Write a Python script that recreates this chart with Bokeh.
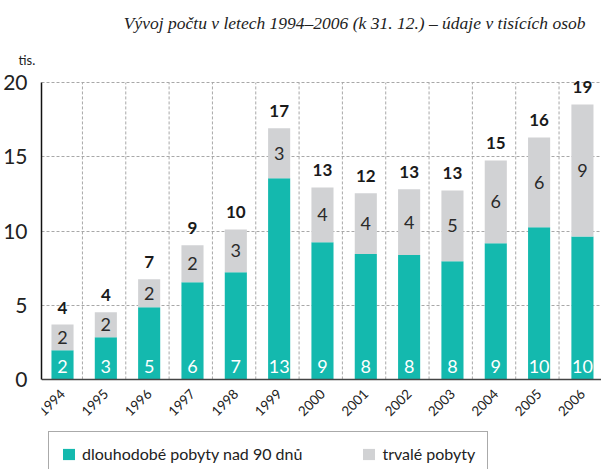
import math
from bokeh.plotting import figure
from bokeh.models import (Range1d, FixedTicker, LabelSet, ColumnDataSource, Title,
                          Legend, LegendItem)
from bokeh.core.properties import value
from bokeh.embed import file_html
from bokeh.resources import INLINE

years = ["1994", "1995", "1996", "1997", "1998", "1999", "2000",
         "2001", "2002", "2003", "2004", "2005", "2006"]
long_stay = [1.96, 2.84, 4.86, 6.55, 7.23, 13.55, 9.24, 8.45, 8.38, 7.97, 9.17, 10.25, 9.64]
permanent = [1.74, 1.68, 1.89, 2.49, 2.88, 3.37, 3.70, 4.09, 4.43, 4.77, 5.59, 6.06, 8.89]
long_labels = ["2", "3", "5", "6", "7", "13", "9", "8", "8", "8", "9", "10", "10"]
perm_labels = ["2", "2", "2", "2", "3", "3", "4", "4", "4", "5", "6", "6", "9"]
total_labels = ["4", "4", "7", "9", "10", "17", "13", "12", "13", "13", "15", "16", "19"]
y_ticks = [0, 5, 10, 15, 20]

TEAL = "#14B9AE"
GRAY = "#D1D2D4"
GRID = "#a8a8a8"
FONT = "Lato"

idx = list(range(len(years)))
total = [a + b for a, b in zip(long_stay, permanent)]
mid = [a + b / 2 for a, b in zip(long_stay, permanent)]
src = ColumnDataSource(dict(x=idx, long=long_stay, total=total, mid=mid,
                            ll=long_labels, pl=perm_labels, tl=total_labels,
                            zero=[0] * len(idx)))

# frame extends below the value axis so that the legend lives inside it
p = figure(frame_width=560, frame_height=395, output_backend="svg",
           toolbar_location=None,
           x_range=Range1d(-0.485, 12.44), y_range=Range1d(-6.07, 20.55),
           min_border_left=33, min_border_right=0, min_border_top=74,
           min_border_bottom=0)
p.outline_line_color = None
p.background_fill_color = "white"

# vertical dashed separators between the bars (0 .. 20)
sep_x = [i + 0.46 for i in idx]
p.segment(x0=sep_x, y0=[0] * len(sep_x), x1=sep_x, y1=[y_ticks[-1]] * len(sep_x),
          line_color=GRID, line_dash="3 2", line_width=1)

r_long = p.vbar(x="x", bottom=0, top="long", width=0.51, source=src,
                fill_color=TEAL, line_color=None)
r_perm = p.vbar(x="x", bottom="long", top="total", width=0.51, source=src,
                fill_color=GRAY, line_color=None)

p.text(x="x", y="zero", text="ll", source=src, text_align="center",
       text_baseline="middle", y_offset=-13, text_color="white",
       text_font=value(FONT), text_font_size="18px")
p.text(x="x", y="mid", text="pl", source=src, text_align="center",
       text_baseline="middle", text_color="#2a2a2a",
       text_font=value(FONT), text_font_size="18px")
p.add_layout(LabelSet(x="x", y="total", text="tl", source=src, text_align="center",
                      text_baseline="bottom", y_offset=11, text_color="#1a1a1a",
                      text_font=value(FONT), text_font_size="17px",
                      text_font_style="bold"))

# axes
xa = p.xaxis[0]
xa.fixed_location = 0
xa.ticker = FixedTicker(ticks=idx)
xa.major_label_overrides = {i: y for i, y in zip(idx, years)}
xa.major_label_orientation = math.pi / 4
xa.major_tick_line_color = None
xa.minor_tick_line_color = None
xa.major_label_text_font = FONT
xa.major_label_text_font_size = "13.5px"
xa.major_label_text_color = "#222222"
xa.major_label_standoff = 6
xa.axis_line_color = "#444444"
xa.axis_line_width = 1.5

ya = p.yaxis[0]
ya.ticker = FixedTicker(ticks=y_ticks)
ya.bounds = (0, 20)
ya.major_tick_line_color = None
ya.minor_tick_line_color = None
ya.major_label_text_font = FONT
ya.major_label_text_font_size = "21px"
ya.major_label_text_color = "#222222"
ya.major_label_standoff = 8
ya.axis_line_color = "#111111"
ya.axis_line_width = 1.5

p.xgrid.visible = False
p.ygrid.ticker = FixedTicker(ticks=y_ticks[1:])
p.ygrid.grid_line_color = GRID
p.ygrid.grid_line_dash = "3 2"
p.ygrid.grid_line_width = 1

# title and unit (as titles in the top panel)
main_title = Title(text="Vývoj počtu v letech 1994–2006 (k 31. 12.) – údaje v tisících osob",
                   align="right", offset=16, standoff=20,
                   text_font="Liberation Serif", text_font_style="italic",
                   text_font_size="17.5px", text_color="#222222")
unit_title = Title(text="tis.", align="left", offset=-23, standoff=14,
                   text_font=FONT, text_font_style="normal",
                   text_font_size="13px", text_color="#222222")
p.title = None
p.above = [unit_title, main_title]

# legend (inside the extended frame, below the year labels)
leg = Legend(items=[LegendItem(label="dlouhodobé pobyty nad 90 dnů", renderers=[r_long]),
                    LegendItem(label="trvalé pobyty", renderers=[r_perm])],
             location=(7, -7), orientation="horizontal",
             border_line_color="#555555", border_line_width=1.5,
             padding=12, spacing=59, glyph_width=15, glyph_height=14,
             label_standoff=6, label_height=14, label_text_font=FONT,
             label_text_font_size="16px", label_text_color="#222222",
             background_fill_alpha=0, margin=0)
p.add_layout(leg, "center")

open("out.html", "w").write(file_html(p, INLINE))
